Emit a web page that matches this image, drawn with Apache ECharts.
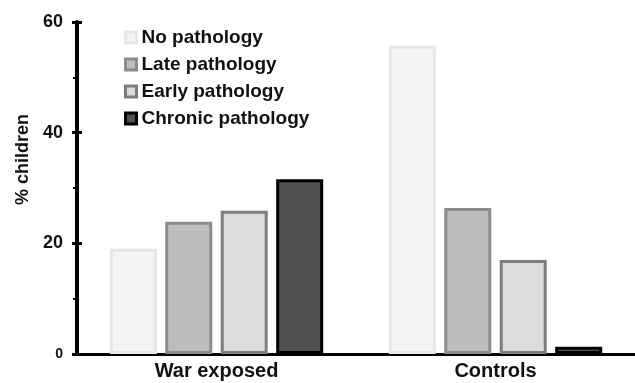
<!DOCTYPE html>
<html>
<head>
<meta charset="utf-8">
<script src="https://cdn.jsdelivr.net/npm/echarts@6/dist/echarts.min.js"></script>
<style>
  html, body { margin: 0; padding: 0; background: #fff; }
  #chart { width: 635px; height: 383px; }
</style>
</head>
<body>
<div id="chart"></div>
<script>
const groups = ["War exposed", "Controls"];
const seriesNames = ["No pathology", "Late pathology", "Early pathology", "Chronic pathology"];
const noPathology = [19, 55.7];
const latePathology = [23.9, 26.4];
const earlyPathology = [25.9, 17];
const chronicPathology = [31.6, 1.3];

const fills = ["#f4f4f4", "#bdbdbd", "#dcdcdc", "#505050"];
const borders = ["#e6e6e6", "#8c8c8c", "#7d7d7d", "#000000"];
const values = [noPathology, latePathology, earlyPathology, chronicPathology];

const font = "Liberation Sans, Arial, sans-serif";

const chart = echarts.init(document.getElementById("chart"));
chart.setOption({
  animation: false,
  backgroundColor: "#fff",
  textStyle: { fontFamily: font },
  grid: { left: 77, right: 0, top: 22, bottom: 29 },
  legend: {
    orient: "vertical",
    left: 119,
    top: 23,
    itemWidth: 11,
    itemHeight: 11,
    itemGap: 8,
    textStyle: { fontSize: 19, fontWeight: "bold", color: "#111" },
    data: seriesNames.map((n, i) => ({
      name: n,
      icon: "rect",
      itemStyle: { color: fills[i], borderColor: borders[i], borderWidth: 3 },
    })),
  },
  graphic: [
    {
      type: "text",
      left: 14,
      top: 114,
      rotation: Math.PI / 2,
      style: { text: "% children", fontSize: 18, fontWeight: "bold", fill: "#111", fontFamily: font },
    },
  ],
  xAxis: {
    type: "category",
    data: groups,
    axisLine: { lineStyle: { color: "#000", width: 3 } },
    axisTick: { show: false },
    axisLabel: { fontSize: 20, fontWeight: "bold", color: "#111", margin: 7 },
  },
  yAxis: [
    {
      type: "value",
      min: 0,
      max: 60,
      interval: 20,
      splitLine: { show: false },
      axisLine: { show: true, lineStyle: { color: "#000", width: 4 } },
      axisTick: { show: true, length: 5, lineStyle: { color: "#000", width: 3 } },
      minorTick: { show: true, splitNumber: 2, length: 4, lineStyle: { color: "#000", width: 2 } },
      axisLabel: {
        fontSize: 18,
        fontWeight: "bold",
        color: "#111",
        margin: 14,
        formatter: (v) => (v === 0 ? "{s|0}" : String(v)),
        rich: { s: { fontSize: 14, fontWeight: "bold", color: "#111" } },
      },
    },
    {
      type: "value",
      position: "left",
      min: 0,
      max: 60,
      interval: 20,
      splitLine: { show: false },
      axisLine: { show: false },
      axisTick: { show: true, inside: true, length: 5, lineStyle: { color: "#000", width: 3 } },
      axisLabel: { show: false },
    },
  ],
  series: seriesNames.map((n, i) => ({
    name: n,
    type: "bar",
    data: values[i],
    barWidth: 47,
    barGap: "18%",
    itemStyle: { color: fills[i], borderColor: borders[i], borderWidth: 3 },
  })),
});
</script>
</body>
</html>
